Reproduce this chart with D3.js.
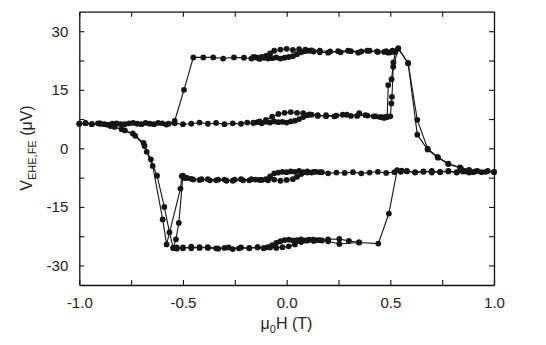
<!DOCTYPE html>
<html><head><meta charset="utf-8">
<script src="https://cdn.jsdelivr.net/npm/d3@7"></script>
<style>
body{margin:0;background:#fff;}
text{font-family:"Liberation Sans",Arial,Helvetica,sans-serif;fill:#222;}
</style>
</head><body>
<svg id="chart" width="546" height="345"></svg>
<script>
// ---- axis ticks ----
const xTicks = [-1, -0.75, -0.5, -0.25, 0, 0.25, 0.5, 0.75, 1];
const xLabels = [-1, -0.5, 0, 0.5, 1];
const yTicks = [-30, -22.5, -15, -7.5, 0, 7.5, 15, 22.5, 30];
const yLabels = [-30, -15, 0, 15, 30];

// ---- field sweeps: [mu0H (T), V (uV)] ----
const sweepUpMajor = [[-1.00,6.3],[-0.97,6.5],[-0.94,6.2],[-0.90,6.4],[-0.86,6.1],[-0.82,6.4],[-0.78,6.2],[-0.74,6.5],[-0.70,6.2],[-0.66,6.3],
 [-0.62,6.5],[-0.58,6.1],[-0.54,6.4],[-0.50,6.2],[-0.46,6.3],[-0.42,6.6],[-0.38,6.3],[-0.34,6.5],[-0.30,6.2],[-0.26,6.4],
 [-0.22,6.3],[-0.19,6.6],[-0.16,6.5],[-0.14,6.7],[-0.12,6.4],[-0.10,6.8],[-0.08,6.6],[-0.06,6.9],[-0.04,6.7],[-0.02,6.8],
 [0.00,6.6],[0.02,6.9],[0.04,7.1],[0.06,7.5],[0.08,8.0],[0.10,8.5],[0.12,8.6],[0.15,8.3],[0.19,8.5],[0.23,8.2],
 [0.27,8.6],[0.31,8.3],[0.35,9.0],[0.39,8.4],[0.43,8.2],[0.46,8.0],[0.48,8.1],[0.50,8.2],[0.505,11.5],[0.508,13.2],
 [0.514,20.9],[0.538,25.6],[0.586,21.8],[0.630,7.3],[0.680,-0.1],[0.728,-2.2],[0.779,-3.9],[0.836,-4.9],[0.88,-5.5],[0.92,-5.8],
 [0.96,-6.0],[1.00,-6.1]];

const sweepDownMajor = [[1.00,-6.0],[0.97,-5.8],[0.94,-6.1],[0.91,-5.9],[0.88,-6.2],[0.85,-5.9],[0.82,-6.1],[0.78,-5.8],[0.74,-6.0],[0.70,-6.2],
 [0.66,-5.9],[0.62,-6.1],[0.58,-5.8],[0.55,-6.0],[0.52,-6.1],[0.48,-6.3],[0.44,-6.0],[0.40,-6.2],[0.36,-6.4],[0.32,-6.1],
 [0.28,-6.3],[0.24,-6.2],[0.20,-6.4],[0.17,-6.1],[0.14,-6.0],[0.12,-6.2],[0.10,-5.9],[0.08,-6.1],[0.06,-5.8],[0.04,-6.0],
 [0.02,-5.9],[0.00,-6.1],[-0.02,-6.0],[-0.04,-6.2],[-0.06,-6.4],[-0.08,-7.2],[-0.10,-7.9],[-0.12,-8.1],[-0.15,-8.0],[-0.18,-8.2],
 [-0.22,-7.9],[-0.26,-8.3],[-0.30,-8.0],[-0.34,-8.2],[-0.38,-7.9],[-0.42,-8.1],[-0.46,-7.8],[-0.49,-7.6],[-0.506,-7.1],[-0.512,-10.3],
 [-0.579,-24.6],[-0.598,-18.2],[-0.646,-4.5],[-0.675,-0.9],[-0.690,1.4],[-0.742,3.8],[-0.796,4.9],[-0.85,5.7],[-0.88,6.2],[-0.91,6.4],
 [-0.94,6.2],[-0.97,6.4],[-1.00,6.3]];

const sweepUpMinor = [[-0.84,6.3],[-0.80,6.2],[-0.76,6.4],[-0.72,6.3],[-0.68,6.5],[-0.64,6.2],[-0.60,6.4],[-0.57,6.3],[-0.54,7.0],[-0.495,15.0],
 [-0.45,23.3],[-0.402,23.3],[-0.354,23.3],[-0.306,23.0],[-0.254,23.3],[-0.206,23.2],[-0.17,23.0],[-0.15,23.3],[-0.13,22.9],[-0.11,23.2],
 [-0.09,23.0],[-0.07,23.1],[-0.05,23.3],[-0.03,23.0],[-0.01,23.2],[0.01,23.4],[0.03,23.6],[0.05,24.1],[0.07,24.6],[0.09,24.9],
 [0.11,25.0],[0.13,24.8],[0.16,24.6],[0.20,24.5],[0.248,24.9],[0.296,25.0],[0.345,24.5],[0.388,25.0],[0.436,24.8],[0.47,24.7],
 [0.49,24.5],[0.50,24.6],[0.52,24.7],[0.538,25.6],[0.586,21.8],[0.630,3.5],[0.680,-0.3],[0.730,-2.4],[0.780,-4.0],[0.840,-5.1],
 [0.88,-5.7]];

const sweepDownMinor = [[0.90,-6.1],[0.86,-5.9],[0.82,-6.2],[0.78,-5.9],[0.74,-6.1],[0.70,-5.8],[0.66,-6.0],[0.62,-6.2],[0.58,-5.9],[0.555,-5.7],
 [0.533,-5.6],[0.493,-16.7],[0.442,-24.4],[0.349,-24.1],[0.254,-24.5],[0.20,-23.8],[0.17,-23.6],[0.15,-23.5],[0.13,-23.7],[0.11,-23.4],
 [0.09,-23.6],[0.07,-23.3],[0.05,-23.5],[0.03,-23.6],[0.01,-23.4],[-0.01,-23.5],[-0.03,-23.8],[-0.05,-24.2],[-0.07,-24.8],[-0.09,-25.3],
 [-0.11,-25.5],[-0.14,-25.4],[-0.18,-25.6],[-0.22,-25.4],[-0.26,-25.8],[-0.30,-25.5],[-0.34,-25.6],[-0.38,-25.3],[-0.42,-25.5],[-0.46,-25.2],
 [-0.50,-25.6],[-0.53,-25.4],[-0.547,-25.5],[-0.565,-21.5],[-0.590,-15.0],[-0.625,-7.0],[-0.655,-2.8],[-0.685,0.6],[-0.73,3.2],[-0.78,4.6],
 [-0.83,5.5],[-0.87,6.1],[-0.90,6.3]];

const loopUpperNearZero = [[-0.16,6.6],[-0.13,6.9],[-0.10,7.3],[-0.07,8.1],[-0.04,8.8],[-0.01,9.1],[0.02,9.3],[0.05,9.1],[0.08,9.0],[0.11,8.7],
 [0.15,8.5],[0.19,8.2],[0.24,8.4],[0.29,8.6],[0.34,8.3],[0.38,8.5],[0.42,8.2],[0.45,8.0],[0.47,7.8],[0.485,8.0],
 [0.490,16.2],[0.506,17.7],[0.515,22.0],[0.525,24.8],[0.51,25.0],[0.48,24.9],[0.44,24.7],[0.40,25.0],[0.36,24.8],[0.31,24.9],
 [0.26,24.6],[0.21,24.8],[0.16,25.0],[0.12,25.1],[0.09,25.3],[0.06,25.4],[0.03,25.2],[0.00,25.5],[-0.03,25.3],[-0.06,25.0],
 [-0.08,24.3],[-0.10,23.7],[-0.12,23.4],[-0.14,23.2],[-0.16,23.4]];

const loopLowerNearZero = [[0.16,-6.1],[0.13,-6.0],[0.10,-6.2],[0.07,-6.6],[0.05,-7.3],[0.03,-7.9],[0.00,-8.1],[-0.03,-8.3],[-0.06,-8.0],[-0.09,-8.2],
 [-0.13,-8.1],[-0.17,-7.9],[-0.21,-8.2],[-0.25,-8.0],[-0.29,-8.3],[-0.33,-8.0],[-0.37,-8.2],[-0.41,-7.9],[-0.45,-8.0],[-0.48,-7.6],
 [-0.50,-7.0],[-0.52,-19.1],[-0.534,-23.3],[-0.547,-25.5],[-0.53,-25.7],[-0.50,-25.4],[-0.46,-25.6],[-0.42,-25.3],[-0.38,-25.5],[-0.33,-25.7],
 [-0.28,-25.4],[-0.23,-25.6],[-0.18,-25.5],[-0.14,-25.3],[-0.11,-25.6],[-0.08,-25.4],[-0.05,-25.5],[-0.02,-25.3],[0.01,-25.1],[0.04,-24.6],
 [0.07,-24.0],[0.10,-23.6],[0.13,-23.4],[0.16,-23.5],[0.20,-23.3],[0.254,-23.2],[0.30,-23.7],[0.349,-24.1]];

const sweeps = [sweepUpMajor, sweepDownMajor, sweepUpMinor, sweepDownMinor, loopUpperNearZero, loopLowerNearZero];

// ---- drawing ----
const svg = d3.select("#chart");
const plotLeft = 79.3, plotRight = 494, plotTop = 11.7, plotBottom = 285;
const x = d3.scaleLinear().domain([-1, 1]).range([plotLeft, plotRight]);
const y = d3.scaleLinear().domain([-35, 35]).range([plotBottom, plotTop]);

const fmtX = d => xLabels.includes(d) ? (d < 0 ? "-" : "") + Math.abs(d).toFixed(1) : "";
const fmtY = d => yLabels.includes(d) ? String(d) : "";

const axStyle = g => {
  g.selectAll("path").attr("stroke", "#111").attr("stroke-width", 1.3);
  g.selectAll("line").attr("stroke", "#111").attr("stroke-width", 1.1);
  g.selectAll("text").style("font-size", "15px").attr("fill", "#222")
    .style("font-family", '"Liberation Sans", Arial, sans-serif');
};

svg.append("g").attr("transform", `translate(0,${plotBottom})`)
  .call(d3.axisBottom(x).tickValues(xTicks).tickSizeInner(-5).tickSizeOuter(0).tickPadding(12).tickFormat(fmtX))
  .call(axStyle);
svg.append("g").attr("transform", `translate(0,${plotTop})`)
  .call(d3.axisTop(x).tickValues(xTicks).tickSizeInner(-5).tickSizeOuter(0).tickFormat(""))
  .call(axStyle);
svg.append("g").attr("transform", `translate(${plotLeft},0)`)
  .call(d3.axisLeft(y).tickValues(yTicks).tickSizeInner(-5).tickSizeOuter(0).tickPadding(11).tickFormat(fmtY))
  .call(axStyle);
svg.append("g").attr("transform", `translate(${plotRight},0)`)
  .call(d3.axisRight(y).tickValues(yTicks).tickSizeInner(-5).tickSizeOuter(0).tickFormat(""))
  .call(axStyle);

const line = d3.line().x(d => x(d[0])).y(d => y(d[1]));
const plot = svg.append("g");
plot.selectAll("path.sweep").data(sweeps).join("path")
  .attr("class", "sweep").attr("d", line)
  .attr("fill", "none").attr("stroke", "#151515").attr("stroke-width", 1.1);
plot.selectAll("g.pts").data(sweeps).join("g").attr("class", "pts")
  .selectAll("circle").data(d => d).join("circle")
  .attr("cx", d => x(d[0])).attr("cy", d => y(d[1])).attr("r", 2.9)
  .attr("fill", "#151515");

// axis titles
const xt = svg.append("text").attr("x", 286.5).attr("y", 329).attr("text-anchor", "middle").style("font-size", "16px");
xt.append("tspan").text("\u03bc");
xt.append("tspan").attr("dy", 4).style("font-size", "11px").text("0");
xt.append("tspan").attr("dy", -4).text("H (T)");

const yt = svg.append("text").attr("transform", "translate(32,148) rotate(-90)").attr("text-anchor", "middle").style("font-size", "16px");
yt.append("tspan").text("V");
yt.append("tspan").attr("dy", 4).style("font-size", "11px").text("EHE,FE");
yt.append("tspan").attr("dy", -4).text(" (\u03bcV)");
</script>
</body></html>
